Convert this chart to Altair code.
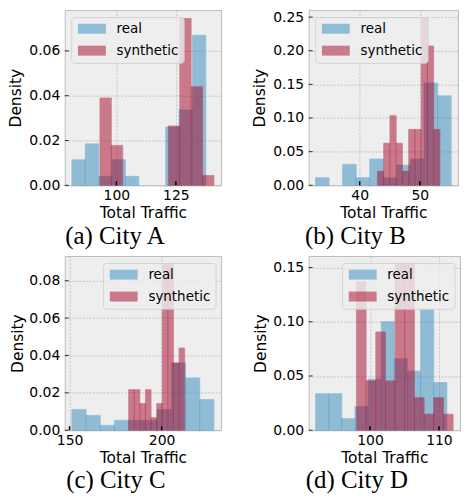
import altair as alt
import numpy as np
import pandas as pd

SERIES = ["real", "synthetic"]
COLORS = ["#348ABD", "#A60628"]
CAPTIONS = ["(a) City A", "(b) City B", "(c) City C", "(d) City D"]

# City A
A_REAL_RANGE = [81.3, 137.6]
A_REAL_DENSITY = [0.0114, 0.0185, 0.004, 0.0114, 0.004, 0.0, 0.0, 0.026, 0.0336, 0.067]
A_SYN_RANGE = [93.1, 141.0]
A_SYN_DENSITY = [0.039, 0.0178, 0.0, 0.0, 0.0, 0.0, 0.0265, 0.0745, 0.044, 0.0044]
A_X_TICKS = [100, 125]
A_Y_TICKS = [0.0, 0.02, 0.04, 0.06]

# City B
B_REAL_RANGE = [32.64, 55.23]
B_REAL_DENSITY = [0.0113, 0.0, 0.031, 0.0113, 0.039, 0.011, 0.030, 0.039, 0.152, 0.133]
B_SYN_RANGE = [42.95, 53.35]
B_SYN_DENSITY = [0.021, 0.0625, 0.1035, 0.0625, 0.021, 0.083, 0.083, 0.248, 0.207, 0.083]
B_X_TICKS = [40, 50]
B_Y_TICKS = [0.0, 0.05, 0.10, 0.15, 0.20, 0.25]

# City C
C_REAL_RANGE = [151.25, 228.4]
C_REAL_DENSITY = [0.0111, 0.0079, 0.0026, 0.0053, 0.0053, 0.0053, 0.0111, 0.036, 0.028, 0.0164]
C_SYN_RANGE = [182.1, 212.5]
C_SYN_DENSITY = [0.0217, 0.0217, 0.0143, 0.0217, 0.0067, 0.0143, 0.0888, 0.0888, 0.036, 0.044]
C_X_TICKS = [150, 200]
C_Y_TICKS = [0.0, 0.02, 0.04, 0.06, 0.08]

# City D
D_REAL_RANGE = [92.1, 111.15]
D_REAL_DENSITY = [0.0337, 0.0337, 0.0107, 0.0218, 0.047, 0.100, 0.066, 0.0545, 0.111, 0.044]
D_SYN_RANGE = [98.03, 112.06]
D_SYN_DENSITY = [0.137, 0.0455, 0.0906, 0.0455, 0.153, 0.153, 0.030, 0.0148, 0.030, 0.0148]
D_X_TICKS = [100, 110]
D_Y_TICKS = [0.0, 0.05, 0.10, 0.15]

SYMBOL_PATH = "M-2.8,-1H2.8V1H-2.8Z"
LEGEND_W = 111


def panel(real_range, real_d, syn_range, syn_d, xticks, yticks, caption,
          w, h, legend_right, title_pad):
    rows = []
    for name, rng, dens in [("real", real_range, real_d), ("synthetic", syn_range, syn_d)]:
        edges = np.linspace(rng[0], rng[1], len(dens) + 1)
        for i, d in enumerate(dens):
            if d > 0:
                rows.append({"series": name, "x0": float(edges[i]), "x1": float(edges[i + 1]), "d": d})
    df = pd.DataFrame(rows)
    lo = min(real_range[0], syn_range[0])
    hi = max(real_range[1], syn_range[1])
    pad = 0.05 * (hi - lo)
    xscale = alt.Scale(domain=[lo - pad, hi + pad], nice=False, zero=False)
    yscale = alt.Scale(domain=[0, 1.05 * max(real_d + syn_d)], nice=False)
    cscale = alt.Scale(domain=SERIES, range=COLORS)
    lx = (w - 7.5 - LEGEND_W) if legend_right else 6.5

    bars = alt.Chart(df).mark_rect(opacity=0.5, strokeWidth=0.7).encode(
        x=alt.X("x0:Q", scale=xscale,
                axis=alt.Axis(values=xticks, title="Total Traffic", format="d",
                              labelPadding=3, titlePadding=3, labelOverlap=False,
                              tickCount=20)),
        x2="x1:Q",
        y=alt.Y("d:Q", scale=yscale,
                axis=alt.Axis(values=yticks, title="Density", format=".2f",
                              labelPadding=5, titlePadding=title_pad,
                              labelOverlap=False, tickCount=20)),
        y2=alt.datum(0),
        color=alt.Color("series:N", scale=cscale, legend=alt.Legend(
            title=None, orient="none", legendX=lx, legendY=7,
            symbolType=SYMBOL_PATH, symbolSize=100, symbolOffset=9,
            symbolOpacity=0.5, symbolStrokeWidth=0, labelOffset=18,
            labelFont="DejaVu Sans", labelFontSize=13.5, labelColor="black",
            padding=5, rowPadding=7, cornerRadius=3,
            fillColor="rgba(238,238,238,0.8)", strokeColor="rgba(204,204,204,0.8)")),
        stroke=alt.Stroke("series:N", scale=cscale, legend=None),
    )
    xt = alt.Chart(pd.DataFrame({"x0": xticks})).mark_rule(color="black", strokeWidth=1.5).encode(
        x=alt.X("x0:Q", scale=xscale), y=alt.value(h), y2=alt.value(h - 4))
    yt = alt.Chart(pd.DataFrame({"d": yticks})).mark_rule(color="#333333", strokeWidth=1).encode(
        y=alt.Y("d:Q", scale=yscale), x=alt.value(0), x2=alt.value(4))
    return alt.layer(bars, xt, yt).properties(
        width=w, height=h,
        title=alt.TitleParams(caption, orient="bottom", anchor="middle", frame="bounds",
                              font="Liberation Serif", fontSize=25,
                              fontWeight="normal", color="black", offset=3))


pa = panel(A_REAL_RANGE, A_REAL_DENSITY, A_SYN_RANGE, A_SYN_DENSITY, A_X_TICKS, A_Y_TICKS,
           CAPTIONS[0], 157, 176, False, 5)
pb = panel(B_REAL_RANGE, B_REAL_DENSITY, B_SYN_RANGE, B_SYN_DENSITY, B_X_TICKS, B_Y_TICKS,
           CAPTIONS[1], 150, 176, False, 5)
pc = panel(C_REAL_RANGE, C_REAL_DENSITY, C_SYN_RANGE, C_SYN_DENSITY, C_X_TICKS, C_Y_TICKS,
           CAPTIONS[2], 157, 175, True, 3)
pd_ = panel(D_REAL_RANGE, D_REAL_DENSITY, D_SYN_RANGE, D_SYN_DENSITY, D_X_TICKS, D_Y_TICKS,
            CAPTIONS[3], 152, 175, True, 4)


def indep(c):
    return c.resolve_scale(color="independent", stroke="independent").resolve_legend(
        color="independent", stroke="independent")


chart = indep(alt.vconcat(
    indep(alt.hconcat(pa, pb, spacing=30)),
    indep(alt.hconcat(pc, pd_, spacing=31)),
    spacing=6,
)).properties(
    padding={"left": 0, "top": 0, "right": 0, "bottom": 0},
    background="white",
).configure_view(
    fill="#eeeeee", stroke="#bcbcbc", strokeWidth=1
).configure_axis(
    grid=True, gridColor="#b2b2b2", gridDash=[2, 1.5], gridWidth=0.7,
    domain=False, ticks=False,
    labelFont="DejaVu Sans", labelFontSize=14, labelColor="black",
    titleFont="DejaVu Sans", titleFontSize=15.5, titleFontWeight="normal", titleColor="black",
)

chart.save("out.html", embed_options={"renderer": "svg", "actions": False})
